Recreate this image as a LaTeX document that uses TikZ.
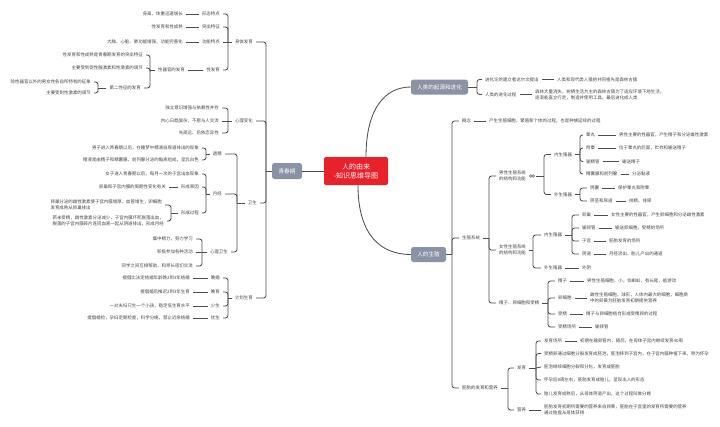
\documentclass[tikz,border=0pt]{standalone}
\usepackage{fontspec}
\newfontfamily\cjk{Noto Sans CJK SC}
\definecolor{txt}{HTML}{454545}
\definecolor{ln}{HTML}{4F4F4F}
\definecolor{rootred}{HTML}{E8212B}
\definecolor{topic}{HTML}{8A92A6}
\begin{document}
\begin{tikzpicture}[x=1pt,y=-1pt,
  t/.style={font={\cjk\fontsize{4.45}{6.3}\selectfont}, text=txt, inner ysep=0.5pt, inner xsep=3pt, align=left},
  tr/.style={t, anchor=west, xshift=-3pt},
  tl/.style={t, anchor=east, xshift=3pt},
  con/.style={draw=ln, line width=0.85pt, rounded corners=2.5pt},
  mainbox/.style={fill=topic, text=white, rounded corners=2.5pt, font={\cjk\fontsize{5.6}{7}\selectfont}, inner sep=0pt},
  rootbox/.style={fill=rootred, text=white, rounded corners=2pt, font={\cjk\fontsize{7}{9}\selectfont}, inner sep=0pt, align=center}]
\fill[white] (0,0) rectangle (720,426);
\useasboundingbox (0,0) rectangle (720,426);

% ---------- main topics ----------
\node[rootbox, minimum width=64pt, minimum height=28pt] (root) at (356,171) {人的由来\\-知识思维导图};
\node[mainbox, minimum width=30pt, minimum height=16pt] (qcq) at (287,171) {青春期};
\node[mainbox, minimum width=57pt, minimum height=15pt] (qy) at (439.5,87) {人类的起源和进化};
\node[mainbox, minimum width=35pt, minimum height=15pt] (sz) at (428.5,254.5) {人的生殖};

\draw[con] (root.west) -- (qcq.east);
\draw[ln, line width=0.85pt] ([xshift=10pt]root.north) .. controls +(0,-48) and +(-26,0) .. (qy.west);
\draw[ln, line width=0.85pt] ([xshift=2pt]root.south) .. controls +(0,50) and +(-30,0) .. (sz.west);

% ---------- 人类的起源和进化 ----------
\node[tr] (a1) at (485,79.5) {进化论的建立者达尔文提出};
\node[tr] (a1a) at (557,79.5) {人类和现代类人猿的共同祖先是森林古猿};
\node[tr] (a2) at (485,94.5) {人类的进化过程};
\node[tr] (a2a) at (535,94.5) {森林大量消失，树栖生活为主的森林古猿为了适应环境下地生活，\\逐渐能直立行走，制造并使用工具，最后进化成人类};
\draw[con] (qy.east) -- (477,87);
\draw[con] (477,87) |- (a1.west);
\draw[con] (477,87) |- (a2.west);
\draw[con] (a1.east) -- (a1a.west);
\draw[con] (a2.east) -- (a2a.west);

% ---------- 人的生殖 ----------
\node[tr] (b1) at (462,121) {概念};
\node[tr] (b1a) at (489,121) {产生生殖细胞，繁殖新个体的过程，也是种族延续的过程};
\node[tr] (b2) at (462,238) {生殖系统};
\node[tr] (b3) at (462,388) {胚胎的发育和营养};
\draw[con] (sz.east) -- (452,254.5);
\draw[con] (452,254.5) |- (b1.west);
\draw[con] (452,254.5) |- (b2.west);
\draw[con] (452,254.5) |- (b3.west);
\draw[con] (b1.east) -- (b1a.west);

% 生殖系统
\node[tr] (b21) at (499,176) {男性生殖系统\\的结构和功能};
\node[tr] (b22) at (499,250) {女性生殖系统\\的结构和功能};
\node[tr] (b23) at (499,303) {精子、卵细胞和受精};
\draw[con] (b2.east) -- (489,238);
\draw[con] (489,238) |- (b21.west);
\draw[con] (489,238) |- (b22.west);
\draw[con] (489,238) |- (b23.west);

% male
\node[inner sep=0pt, minimum width=7pt, minimum height=4pt] (ic1) at (532,176) {};
\draw[ln, line width=0.45pt] ([xshift=-1.2pt]ic1.center) circle (1.3pt) ([xshift=1.2pt]ic1.center) circle (1.3pt);
\node[tr] (b211) at (554,154.5) {内生殖器};
\node[tr] (b212) at (554,194.5) {外生殖器};
\draw[con] (ic1.east) -- (544,176);
\draw[con] (544,176) |- (b211.west);
\draw[con] (544,176) |- (b212.west);

\node[tr] (m1) at (586,135) {睾丸};
\node[tr] (m1a) at (619,135) {男性主要的性器官，产生精子和分泌雄性激素};
\node[tr] (m2) at (586,148) {附睾};
\node[tr] (m2a) at (619,148) {位于睾丸的后面，贮存和输送精子};
\node[tr] (m3) at (586,161.5) {输精管};
\node[tr] (m3a) at (622,161.5) {输送精子};
\node[tr] (m4) at (586,174) {精囊腺和前列腺};
\node[tr] (m4a) at (632,174) {分泌黏液};
\draw[con] (b211.east) -- (580,154.5);
\draw[con] (580,154.5) |- (m1.west);
\draw[con] (580,154.5) |- (m2.west);
\draw[con] (580,154.5) |- (m3.west);
\draw[con] (580,154.5) |- (m4.west);
\draw[con] (m1.east) -- (m1a.west);
\draw[con] (m2.east) -- (m2a.west);
\draw[con] (m3.east) -- (m3a.west);
\draw[con] (m4.east) -- (m4a.west);

\node[tr] (m5) at (590,188) {阴囊};
\node[tr] (m5a) at (618,188) {保护睾丸和附睾};
\node[tr] (m6) at (590,201) {阴茎和尿道};
\node[tr] (m6a) at (629,201) {排精、排尿};
\draw[con] (b212.east) -- (580,194.5);
\draw[con] (580,194.5) |- (m5.west);
\draw[con] (580,194.5) |- (m6.west);
\draw[con] (m5.east) -- (m5a.west);
\draw[con] (m6.east) -- (m6a.west);

% female
\node[tr] (b221) at (544,235) {内生殖器};
\node[tr] (b222) at (544,268) {外生殖器};
\node[tr] (f5a) at (582,268) {外阴};
\draw[con] (b22.east) -- (533,250);
\draw[con] (533,250) |- (b221.west);
\draw[con] (533,250) |- (b222.west);
\draw[con] (b222.east) -- (f5a.west);

\node[tr] (f1) at (582,215) {卵巢};
\node[tr] (f1a) at (611,215) {女性主要的性器官，产生卵细胞和分泌雌性激素};
\node[tr] (f2) at (582,228) {输卵管};
\node[tr] (f2a) at (615,228) {输送卵细胞，受精的场所};
\node[tr] (f3) at (582,241) {子宫};
\node[tr] (f3a) at (609,241) {胚胎发育的场所};
\node[tr] (f4) at (582,254) {阴道};
\node[tr] (f4a) at (609,254) {月经流出、胎儿产出的通道};
\draw[con] (b221.east) -- (572,235);
\draw[con] (572,235) |- (f1.west);
\draw[con] (572,235) |- (f2.west);
\draw[con] (572,235) |- (f3.west);
\draw[con] (572,235) |- (f4.west);
\draw[con] (f1.east) -- (f1a.west);
\draw[con] (f2.east) -- (f2a.west);
\draw[con] (f3.east) -- (f3a.west);
\draw[con] (f4.east) -- (f4a.west);

% sperm / egg
\node[tr] (s1) at (558,281) {精子};
\node[tr] (s1a) at (587,281) {男性生殖细胞，小，似蝌蚪，有长尾，能游动};
\node[tr] (s2) at (558,298) {卵细胞};
\node[tr] (s2a) at (590,298) {雌性生殖细胞，球形，人体内最大的细胞，细胞质\\中的卵黄为胚胎发育初期提供营养};
\node[tr] (s3) at (558,314) {受精};
\node[tr] (s3a) at (586,314) {精子与卵细胞结合形成受精卵的过程};
\node[tr] (s4) at (558,327) {受精场所};
\node[tr] (s4a) at (595,327) {输卵管};
\draw[con] (b23.east) -- (548,303);
\draw[con] (548,303) |- (s1.west);
\draw[con] (548,303) |- (s2.west);
\draw[con] (548,303) |- (s3.west);
\draw[con] (548,303) |- (s4.west);
\draw[con] (s1.east) -- (s1a.west);
\draw[con] (s2.east) -- (s2a.west);
\draw[con] (s3.east) -- (s3a.west);
\draw[con] (s4.east) -- (s4a.west);

% embryo
\node[tr] (b31) at (517,368) {发育};
\node[tr] (b32) at (517,410) {营养};
\node[tr] (b32a) at (544,410) {胚胎发育初期所需要的营养来自卵黄，胚胎在子宫里的发育所需要的营养\\通过胎盘从母体获得};
\draw[con] (b3.east) -- (508,388);
\draw[con] (508,388) |- (b31.west);
\draw[con] (508,388) |- (b32.west);
\draw[con] (b32.east) -- (b32a.west);

\node[tr] (d1) at (544,341) {发育场所};
\node[tr] (d1a) at (580,341) {初期在输卵管内，随后，在母体子宫内继续发育40周};
\node[tr] (d2) at (544,353.5) {受精卵通过细胞分裂发育成胚泡，胚泡移到子宫内，在子宫内膜种植下来，称为怀孕};
\node[tr] (d3) at (544,367) {胚泡继续细胞分裂和分化，发育成胚胎};
\node[tr] (d4) at (544,380) {怀孕后8周左右，胚胎发育成胎儿，呈现出人的形态};
\node[tr] (d5) at (544,394) {胎儿发育成熟后，从母体阴道产出，这个过程叫做分娩};
\draw[con] (b31.east) -- (536,368);
\draw[con] (536,368) |- (d1.west);
\draw[con] (536,368) |- (d2.west);
\draw[con] (536,368) -- (d3.west);
\draw[con] (536,368) |- (d4.west);
\draw[con] (536,368) |- (d5.west);
\draw[con] (d1.east) -- (d1a.west);

% ---------- 青春期 (left) ----------
\node[tl] (l1) at (253,42) {身体发育};
\node[tl] (l2) at (253,121) {心理变化};
\node[tl] (l3) at (257,203) {卫生};
\node[tl] (l4) at (253,298) {计划生育};
\draw[con] (qcq.west) -- (266,171);
\draw[con] (266,171) |- (l1.east);
\draw[con] (266,171) |- (l2.east);
\draw[con] (266,171) |- (l3.east);
\draw[con] (266,171) |- (l4.east);

% 身体发育
\node[tl] (p1) at (220,14) {形态特点};
\node[tl] (p1a) at (183,14) {身高、体重迅速增长};
\node[tl] (p2) at (220,27) {突出特征};
\node[tl] (p2a) at (183,27) {性发育和性成熟};
\node[tl] (p3) at (220,42) {功能特点};
\node[tl] (p3a) at (183,42) {大脑、心脏、肺功能增强，功能完善化};
\node[tl] (p4) at (220,70) {性发育};
\node[tl] (p4a) at (185,70) {性器官的发育};
\draw[con] (l1.west) -- (228,42);
\draw[con] (228,42) |- (p1.east);
\draw[con] (228,42) |- (p2.east);
\draw[con] (228,42) -- (p3.east);
\draw[con] (228,42) |- (p4.east);
\draw[con] (p1.west) -- (p1a.east);
\draw[con] (p2.west) -- (p2a.east);
\draw[con] (p3.west) -- (p3a.east);
\draw[con] (p4.west) -- (p4a.east);

\node[tl] (p41) at (143,55) {性发育和性成熟是青春期发育的突出特征};
\node[tl] (p42) at (143,68) {主要受到促性腺激素和性激素的调节};
\node[tl] (p43) at (141,88) {第二性征的发育};
\draw[con] (p4a.west) -- (150,70);
\draw[con] (150,70) |- (p41.east);
\draw[con] (150,70) |- (p42.east);
\draw[con] (150,70) |- (p43.east);

\node[tl] (p431) at (91,82) {除性器官以外的男女性各自所特有的征象};
\node[tl] (p432) at (91,93) {主要受到性激素的调节};
\draw[con] (p43.west) -- (98,88);
\draw[con] (98,88) |- (p431.east);
\draw[con] (98,88) |- (p432.east);

% 心理变化
\node[tl] (x1) at (219,108) {独立意识增强与依赖性并存};
\node[tl] (x2) at (219,121) {内心日趋复杂，不愿与人交流};
\node[tl] (x3) at (219,133) {先疏远、后依恋异性};
\draw[con] (l2.west) -- (228,121);
\draw[con] (228,121) |- (x1.east);
\draw[con] (228,121) -- (x2.east);
\draw[con] (228,121) |- (x3.east);

% 卫生
\node[tl] (w1) at (222,154) {遗精};
\node[tl] (w2) at (222,194) {月经};
\node[tl] (w3) at (228,252) {心理卫生};
\draw[con] (l3.west) -- (237,203);
\draw[con] (237,203) |- (w1.east);
\draw[con] (237,203) |- (w2.east);
\draw[con] (237,203) |- (w3.east);

\node[tl] (w11) at (199,148) {男子进入青春期以后，在睡梦中精液自尿道排出的现象};
\node[tl] (w12) at (199,160) {精液是由精子和精囊腺、前列腺分泌的黏液组成，呈乳白色};
\draw[con] (w1.west) -- (206,154);
\draw[con] (206,154) |- (w11.east);
\draw[con] (206,154) |- (w12.east);

\node[tl] (w21) at (199,174) {女子进入青春期以后，每月一次的子宫出血现象};
\node[tl] (w22) at (199,187) {形成原因};
\node[tl] (w22a) at (166,187) {卵巢和子宫内膜的周期性变化有关};
\node[tl] (w23) at (199,213) {形成过程};
\draw[con] (w2.west) -- (206,194);
\draw[con] (206,194) |- (w21.east);
\draw[con] (206,194) |- (w22.east);
\draw[con] (206,194) |- (w23.east);
\draw[con] (w22.west) -- (w22a.east);

\node[tl] (w231) at (162,205) {卵巢分泌的雌性激素使子宫内膜增厚，血管增生，卵细胞\\发育成熟从卵巢排出};
\node[tl] (w232) at (164,221) {若未受精，雌性激素分泌减少，子宫内膜坏死脱落出血，\\脱落的子宫内膜碎片连同血液一起从阴道排出，形成月经};
\draw[con] (w23.west) -- (171,213);
\draw[con] (171,213) |- (w231.east);
\draw[con] (171,213) |- (w232.east);

\node[tl] (w31) at (193,239) {集中精力，努力学习};
\node[tl] (w32) at (193,252) {积极参加各种活动};
\node[tl] (w33) at (193,266) {同学之间互相帮助，和师长密切交流};
\draw[con] (w3.west) -- (202,252);
\draw[con] (202,252) |- (w31.east);
\draw[con] (202,252) -- (w32.east);
\draw[con] (202,252) |- (w33.east);

% 计划生育
\node[tl] (j1) at (220,278) {晚婚};
\node[tl] (j1a) at (190,278) {提倡比法定结婚年龄晚2到3年结婚};
\node[tl] (j2) at (220,292) {晚育};
\node[tl] (j2a) at (190,292) {提倡婚后推迟2到3年生育};
\node[tl] (j3) at (220,306) {少生};
\node[tl] (j3a) at (190,306) {一对夫妇只生一个小孩，稳定低生育水平};
\node[tl] (j4) at (220,318) {优生};
\node[tl] (j4a) at (190,318) {提倡婚检，孕妇定期检查，科学分娩，禁止近亲结婚};
\draw[con] (l4.west) -- (228,298);
\draw[con] (228,298) |- (j1.east);
\draw[con] (228,298) |- (j2.east);
\draw[con] (228,298) |- (j3.east);
\draw[con] (228,298) |- (j4.east);
\draw[con] (j1.west) -- (j1a.east);
\draw[con] (j2.west) -- (j2a.east);
\draw[con] (j3.west) -- (j3a.east);
\draw[con] (j4.west) -- (j4a.east);
\end{tikzpicture}
\end{document}
